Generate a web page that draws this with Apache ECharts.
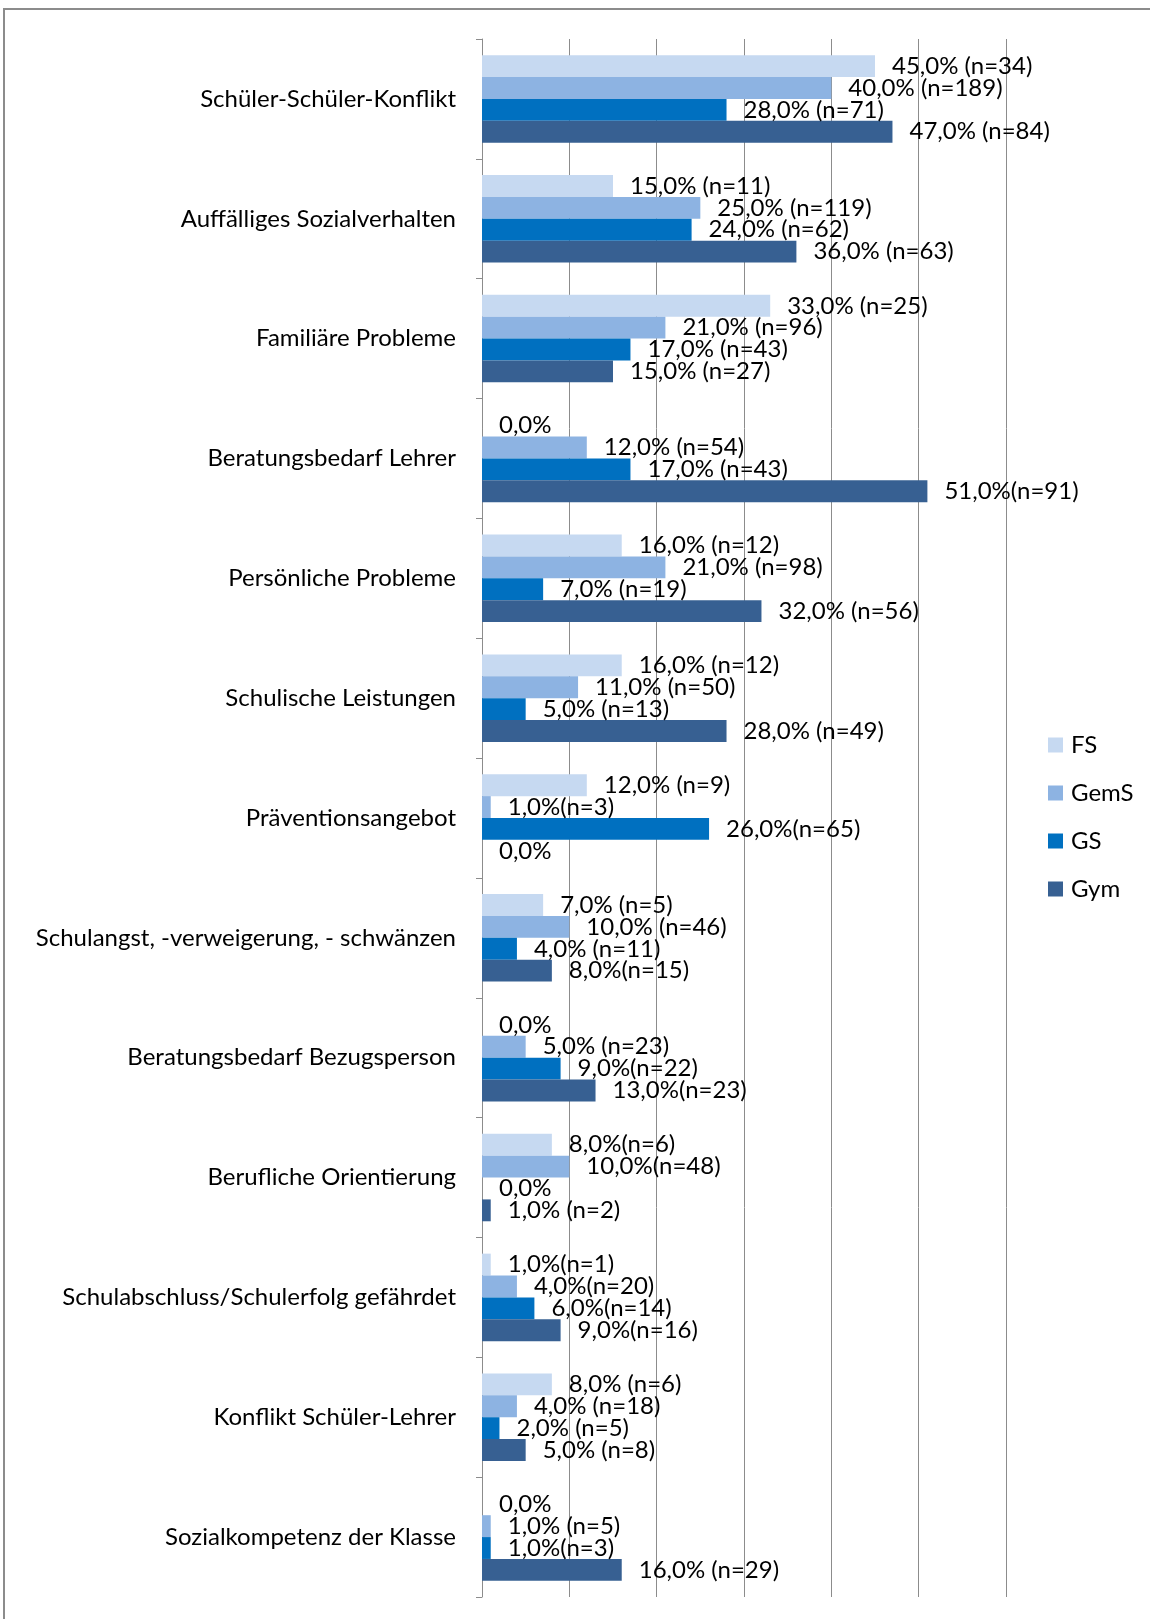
<!DOCTYPE html>
<html>
<head>
<meta charset="utf-8">
<script src="https://cdn.jsdelivr.net/npm/echarts@6/dist/echarts.min.js"></script>
<style>
	html, body { margin: 0; padding: 0; background: #fff; }
	#chart { width: 1150px; height: 1619px; }
</style>
</head>
<body>
<div id="chart"></div>
<script>
// Kategorien (von oben nach unten)
const categories = [
	'Schüler-Schüler-Konflikt',
	'Auffälliges Sozialverhalten',
	'Familiäre Probleme',
	'Beratungsbedarf Lehrer',
	'Persönliche Probleme',
	'Schulische Leistungen',
	'Präventionsangebot',
	'Schulangst, -verweigerung, - schwänzen',
	'Beratungsbedarf Bezugsperson',
	'Berufliche Orientierung',
	'Schulabschluss/Schulerfolg gefährdet',
	'Konflikt Schüler-Lehrer',
	'Sozialkompetenz der Klasse'
]

const seriesNames = ['FS', 'GemS', 'GS', 'Gym']

// Anteile in %
const fsValues = [45, 15, 33, 0, 16, 16, 12, 7, 0, 8, 1, 8, 0]
const gemsValues = [40, 25, 21, 12, 21, 11, 1, 10, 5, 10, 4, 4, 1]
const gsValues = [28, 24, 17, 17, 7, 5, 26, 4, 9, 0, 6, 2, 1]
const gymValues = [47, 36, 15, 51, 32, 28, 0, 8, 13, 1, 9, 5, 16]

// Fallzahlen (null = keine Angabe)
const fsN = [34, 11, 25, null, 12, 12, 9, 5, null, 6, 1, 6, null]
const gemsN = [189, 119, 96, 54, 98, 50, 3, 46, 23, 48, 20, 18, 5]
const gsN = [71, 62, 43, 43, 19, 13, 65, 11, 22, null, 14, 5, 3]
const gymN = [84, 63, 27, 91, 56, 49, null, 15, 23, 2, 16, 8, 29]

// Labels ohne Leerzeichen vor "(n=..)"
const fsTight = [9, 10]
const gemsTight = [6, 9, 10]
const gsTight = [6, 8, 10, 12]
const gymTight = [3, 7, 8, 10]

const colors = ['#C6D9F1', '#8DB3E2', '#0070C0', '#376092']

const FONT = 'Lato'

function makeSeries(name, values, ns, tight, color) {
	return {
		name: name,
		type: 'bar',
		barGap: 0,
		barCategoryGap: '27%',
		itemStyle: { color: color },
		data: values,
		label: {
			show: true,
			position: 'right',
			distance: 17,
			color: '#000',
			fontFamily: FONT,
			fontSize: 24,
			formatter: function (p) {
				const i = p.dataIndex
				let s = p.value.toFixed(1).replace('.', ',') + '%'
				if (ns[i] !== null) {
					s += (tight.indexOf(i) >= 0 ? '' : ' ') + '(n=' + ns[i] + ')'
				}
				return s
			}
		}
	}
}

const myChart = echarts.init(document.getElementById('chart'))

myChart.setOption({
	animation: false,
	color: colors,
	textStyle: { fontFamily: FONT },
	graphic: [
		{
			type: 'rect',
			shape: { x: 4, y: 9, width: 1200, height: 1700 },
			style: { fill: 'none', stroke: '#8c8c8c', lineWidth: 2 }
		}
	],
	legend: {
		orient: 'vertical',
		left: 1043,
		top: 728,
		itemWidth: 15,
		itemHeight: 15,
		itemGap: 24,
		icon: 'rect',
		textStyle: { color: '#000', fontSize: 24, fontFamily: FONT, padding: [0, 0, 0, 3] },
		data: seriesNames
	},
	grid: {
		left: 482,
		top: 39,
		width: 524,
		height: 1558
	},
	xAxis: {
		type: 'value',
		min: 0,
		max: 60,
		interval: 10,
		axisLabel: { show: false },
		axisLine: { show: false },
		axisTick: { show: false },
		splitLine: { show: true, lineStyle: { color: '#8c8c8c', width: 1 } }
	},
	yAxis: {
		type: 'category',
		inverse: true,
		data: categories,
		axisLine: { show: true, lineStyle: { color: '#8c8c8c', width: 1 } },
		axisTick: { show: true, length: 6, lineStyle: { color: '#8c8c8c' } },
		axisLabel: { color: '#000', fontSize: 24, fontFamily: FONT, margin: 26 }
	},
	series: [
		makeSeries('FS', fsValues, fsN, fsTight, colors[0]),
		makeSeries('GemS', gemsValues, gemsN, gemsTight, colors[1]),
		makeSeries('GS', gsValues, gsN, gsTight, colors[2]),
		makeSeries('Gym', gymValues, gymN, gymTight, colors[3])
	]
})
</script>
</body>
</html>
